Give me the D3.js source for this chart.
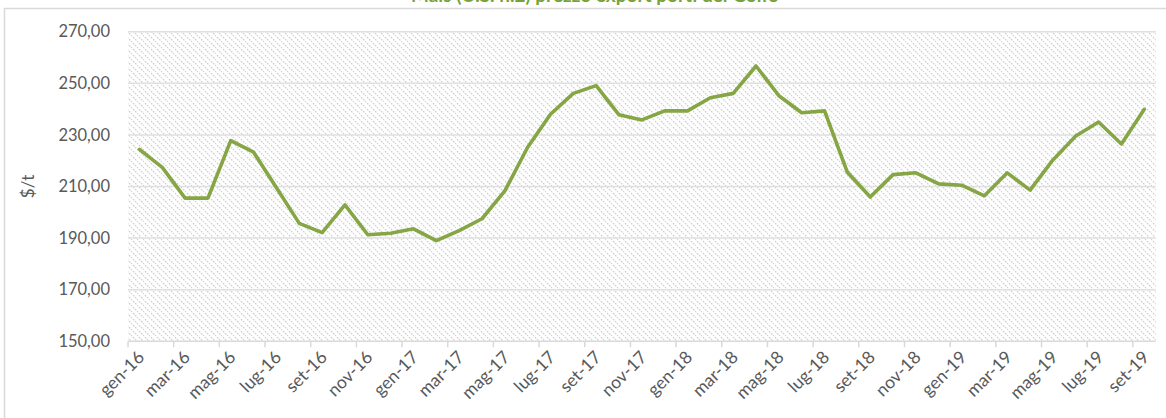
<!DOCTYPE html>
<html>
<head>
<meta charset="utf-8">
<script src="https://cdn.jsdelivr.net/npm/d3@7"></script>
<style>
  body { margin: 0; background: #fff; }
  svg { display: block; font-family: Lato, 'Open Sans', sans-serif; }
</style>
</head>
<body>
<div class="canvas"></div>
<script>
// months gen-16 .. set-19
const years = ['16', '17', '18', '19']
const monthNames = ['gen', 'feb', 'mar', 'apr', 'mag', 'giu', 'lug', 'ago', 'set', 'ott', 'nov', 'dic']
const months = []
years.forEach(y => monthNames.forEach(m => months.push(`${m}-${y}`)))
months.splice(45)

// $/t values
const prices = [
  224.4, 217.4, 205.5, 205.5, 227.8, 223.3, 209.5, 195.7, 192.1, 202.9, 191.3, 191.9,
  193.6, 189.0, 192.9, 197.5, 208.3, 225.2, 238.0, 246.1, 249.1, 237.8, 235.8, 239.3,
  239.3, 244.4, 246.1, 256.7, 245.2, 238.6, 239.3, 215.5, 205.9, 214.6, 215.3, 211.0,
  210.5, 206.4, 215.3, 208.6, 220.3, 229.6, 235.0, 226.5, 239.9
]
const yTicks = [150, 170, 190, 210, 230, 250, 270]

const dims = { width: 1166, height: 418 }
const plot = { left: 128, right: 1155.7, top: 31.7, bottom: 341.3 }

const svg = d3.select('.canvas')
  .append('svg')
  .attr('width', dims.width)
  .attr('height', dims.height)

//? hatch fill for the plot area
const defs = svg.append('defs')
const pat = defs.append('pattern')
  .attr('id', 'hatch')
  .attr('patternUnits', 'userSpaceOnUse')
  .attr('width', 6)
  .attr('height', 6)
pat.append('rect').attr('width', 6).attr('height', 6).attr('fill', '#fff')
pat.append('path')
  .attr('d', 'M-1,-1 L7,7 M-4,2 L2,8 M4,-2 L8,2')
  .attr('stroke', '#cdcdcd')
  .attr('stroke-width', 1.2)
  .attr('stroke-dasharray', '1.8,1.1')

// chart border (title sits above it)
svg.append('path')
  .attr('d', `M4.5,${dims.height} V8.5 H${dims.width}`)
  .attr('fill', 'none')
  .attr('stroke', '#d9d9d9')
  .attr('stroke-width', 1.5)

svg.append('text')
  .attr('x', 595)
  .attr('y', 2)
  .attr('text-anchor', 'middle')
  .attr('font-size', 19)
  .attr('font-weight', 'bold')
  .attr('fill', '#77a23a')
  .text('Mais (U.S. n.2) prezzo export porti del Golfo')

const x = d3.scaleBand()
  .domain(months)
  .range([plot.left, plot.right])
  .padding(0)

const y = d3.scaleLinear()
  .domain([150, 270])
  .range([plot.bottom, plot.top])

svg.append('rect')
  .attr('x', plot.left)
  .attr('y', plot.top)
  .attr('width', plot.right - plot.left)
  .attr('height', plot.bottom - plot.top)
  .attr('fill', 'url(#hatch)')

// gridlines
svg.append('g')
  .selectAll('line')
  .data(yTicks.slice(1))
  .join('line')
  .attr('x1', plot.left)
  .attr('x2', plot.right)
  .attr('y1', d => y(d))
  .attr('y2', d => y(d))
  .attr('stroke', '#e0e0e0')
  .attr('stroke-width', 1.5)

//? Y AXIS
const it = d3.formatLocale({ decimal: ',', thousands: '.', grouping: [3], currency: ['', '$'] })
const yAxis = d3.axisLeft(y)
  .tickValues(yTicks)
  .tickFormat(it.format('.2f'))
  .tickSize(0)
  .tickPadding(18)
const yg = svg.append('g')
  .attr('transform', `translate(${plot.left},0)`)
  .call(yAxis)
yg.select('.domain').remove()
yg.selectAll('text')
  .attr('font-size', 16.5)
  .attr('fill', '#595959')
  .attr('font-family', 'Lato, sans-serif')

svg.append('text')
  .attr('transform', `translate(34,${(plot.top + plot.bottom) / 2}) rotate(-90)`)
  .attr('text-anchor', 'middle')
  .attr('font-size', 17)
  .attr('fill', '#595959')
  .text('$/t')

//? X AXIS
const xg = svg.append('g')
xg.append('line')
  .attr('x1', plot.left)
  .attr('x2', plot.right)
  .attr('y1', plot.bottom)
  .attr('y2', plot.bottom)
  .attr('stroke', '#d9d9d9')
  .attr('stroke-width', 1.5)

const tickMonths = months.filter((m, i) => i % 2 === 0)
xg.selectAll('.tick')
  .data(tickMonths)
  .join('line')
  .attr('class', 'tick')
  .attr('x1', d => x(d))
  .attr('x2', d => x(d))
  .attr('y1', plot.bottom)
  .attr('y2', plot.bottom + 6)
  .attr('stroke', '#d9d9d9')
  .attr('stroke-width', 1.5)

xg.selectAll('.lbl')
  .data(tickMonths)
  .join('text')
  .attr('class', 'lbl')
  .attr('transform', d => `translate(${x(d) + x.bandwidth() / 2 + 6},${plot.bottom + 17}) rotate(-45)`)
  .attr('text-anchor', 'end')
  .attr('font-size', 17.5)
  .attr('fill', '#595959')
  .text(d => d)

//? LINE
const line = d3.line()
  .x((d, i) => x(months[i]) + x.bandwidth() / 2)
  .y(d => y(d))

svg.append('path')
  .datum(prices)
  .attr('d', line)
  .attr('fill', 'none')
  .attr('stroke', '#86a545')
  .attr('stroke-width', 3.6)
  .attr('stroke-linejoin', 'round')
  .attr('stroke-linecap', 'round')
</script>
</body>
</html>
